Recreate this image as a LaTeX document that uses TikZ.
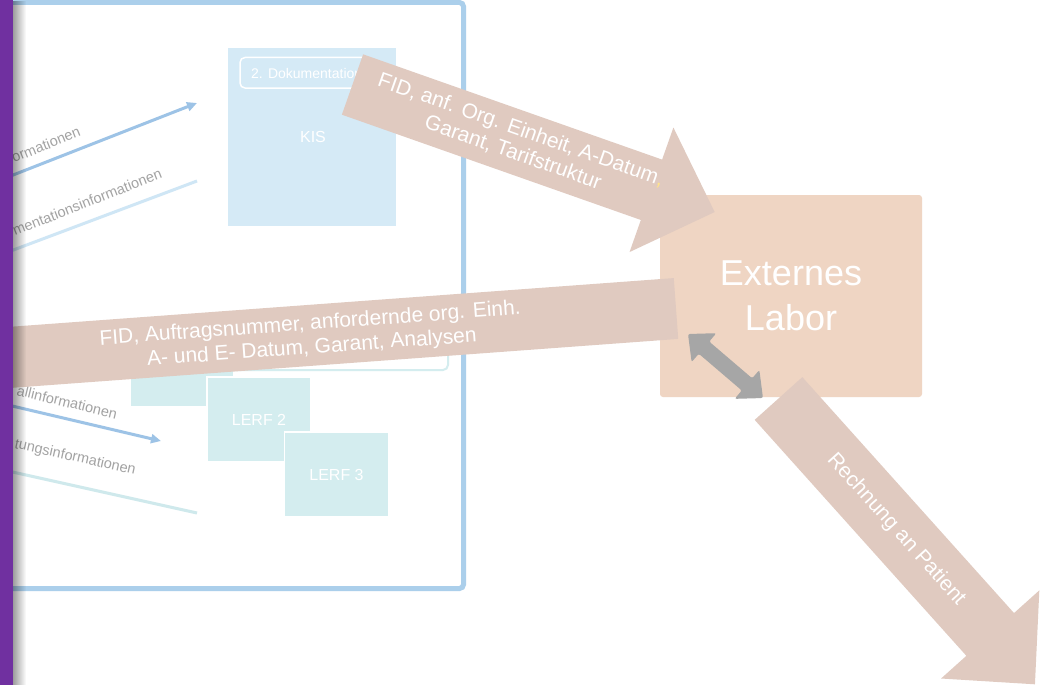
\documentclass[tikz,border=0pt]{standalone}
\usepackage{fontspec}
\setmainfont{Liberation Sans}
\usetikzlibrary{arrows.meta,fadings}
\definecolor{purplebar}{HTML}{7030A0}
\definecolor{framebl}{HTML}{ABCFEB}
\definecolor{kisfill}{HTML}{D5EAF6}
\definecolor{lerffill}{HTML}{D4EDEF}
\definecolor{arrbl}{HTML}{9DC3E6}
\definecolor{linebl}{HTML}{CFE6F5}
\definecolor{linetl}{HTML}{CFE9EC}
\definecolor{lblgray}{HTML}{A3A3A3}
\definecolor{bandc}{HTML}{E0CAC0}
\definecolor{laborc}{HTML}{EFD5C3}
\definecolor{grayarr}{HTML}{A6A6A6}
\definecolor{commay}{HTML}{FFE38A}
\tikzset{
  bigtxt/.style={text=white, font=\fontsize{21}{24}\selectfont, align=center, inner sep=0pt},
  lbl/.style={text=lblgray, font=\fontsize{14.5}{16}\selectfont, inner sep=0pt, anchor=base west},
  boxtxt/.style={text=white, font=\fontsize{16}{18}\selectfont, inner sep=0pt},
  lerfbox/.style={fill=lerffill, draw=white, line width=1.2pt, minimum width=104pt, minimum height=85pt, inner sep=0pt},
  blockarrow/.style={fill=bandc, draw=none}
}
\begin{document}
\begin{tikzpicture}[x=1pt,y=-1pt]
\useasboundingbox (0,0) rectangle (1043,685);
\fill[white] (0,0) rectangle (1043,685);
% frame
\draw[framebl, line width=5pt, rounded corners=4pt] (5,2.5) rectangle (463.5,588.5);
% KIS box
\node[fill=kisfill, minimum width=168pt, minimum height=178pt, inner sep=0pt] (kis) at (312,137) {};
\draw[white, line width=1.5pt, rounded corners=5pt] (240,57.5) rectangle (372,88);
\node[text=white, font=\fontsize{14}{16}\selectfont, inner sep=0pt, anchor=west] (dok) at (251,73) {2. Dokumentation};
\node[boxtxt] (kistxt) at (313,137) {KIS};
% left connectors
\coordinate (a1s) at (8,177);
\coordinate (a1e) at (197,103);
\draw[arrbl, line width=3pt, -{Triangle[length=10pt,width=9pt]}] (a1s) -- (a1e);
\node[lbl, rotate=22] (l1) at (14,163) {ormationen};
\coordinate (a2s) at (8,252);
\coordinate (a2e) at (197,181);
\draw[linebl, line width=3pt] (a2s) -- (a2e);
\node[lbl, rotate=21.5] (l2) at (15,236) {mentationsinformationen};
\coordinate (a3s) at (8,405);
\coordinate (a3e) at (161,441);
\draw[arrbl, line width=3pt, -{Triangle[length=10pt,width=9pt]}] (a3s) -- (a3e);
\node[lbl, rotate=-13.5] (l3) at (16,395) {allinformationen};
\coordinate (a4s) at (8,471);
\coordinate (a4e) at (197,513);
\draw[linetl, line width=3pt] (a4s) -- (a4e);
\node[lbl, rotate=-12.5] (l4) at (14,448) {tungsinformationen};
% LERF group
\draw[lerffill, line width=2pt, rounded corners=5pt] (128,340) rectangle (448,370);
\node[lerfbox] (lerf1) at (182,364.5) {};
\node[lerfbox] (lerf2) at (259,419.5) {};
\node[boxtxt] at (lerf2) {LERF 2};
\node[lerfbox] (lerf3) at (336.5,474.5) {};
\node[boxtxt] at (lerf3) {LERF 3};
% Externes Labor
\node[fill=laborc, rounded corners=3pt, minimum width=262pt, minimum height=202pt, inner sep=0pt,
      text=white, font=\fontsize{36}{45}\selectfont, align=center] (labor) at (791,296) {Externes\\Labor};
% band
\begin{scope}[shift={(676,308.5)}, rotate=4.2]
  \fill[bandc] (-760,-30.5) -- (0,-30.5) -- (0,30.5) -- (-760,30.5) -- cycle;
  \node[bigtxt, rotate=4.2] (bandtxt) at (-366,1) {FID, Auftragsnummer, anfordernde org. Einh.\\A- und E- Datum, Garant, Analysen};
\end{scope}
% top arrow
\begin{scope}[shift={(352.5,84.5)}, rotate=-19.4]
  \fill[blockarrow] (0,-32) -- (317,-32) -- (317,-66) -- (384,0) -- (317,66) -- (317,32) -- (0,32) -- cycle;
  \node[bigtxt, rotate=-19.4] (toptxt) at (174,-1) {FID, anf. Org. Einheit, A-Datum{\color{commay},}\\Garant, Tarifstruktur};
\end{scope}
% bottom arrow
\begin{scope}[shift={(778.5,398.5)}, rotate=-48.1]
  \fill[blockarrow] (0,-32) -- (317,-32) -- (317,-66) -- (384,0) -- (317,66) -- (317,32) -- (0,32) -- cycle;
  \node[bigtxt, rotate=-48.1] (bottxt) at (176,0) {Rechnung an Patient};
\end{scope}
% gray double arrow
\begin{scope}[shift={(688,334)}, rotate=-40.5]
  \fill[grayarr, rounded corners=2pt] (0,0) -- (21,-19) -- (21,-8) -- (77.6,-8) -- (77.6,-19) -- (98.6,0) -- (77.6,19) -- (77.6,8) -- (21,8) -- (21,19) -- cycle;
\end{scope}
% purple bar with shadow
\fill[black, opacity=0.4, path fading=east] (12.5,0) rectangle (26,685);
\fill[purplebar] (0,0) rectangle (12.5,685);
\end{tikzpicture}
\end{document}
